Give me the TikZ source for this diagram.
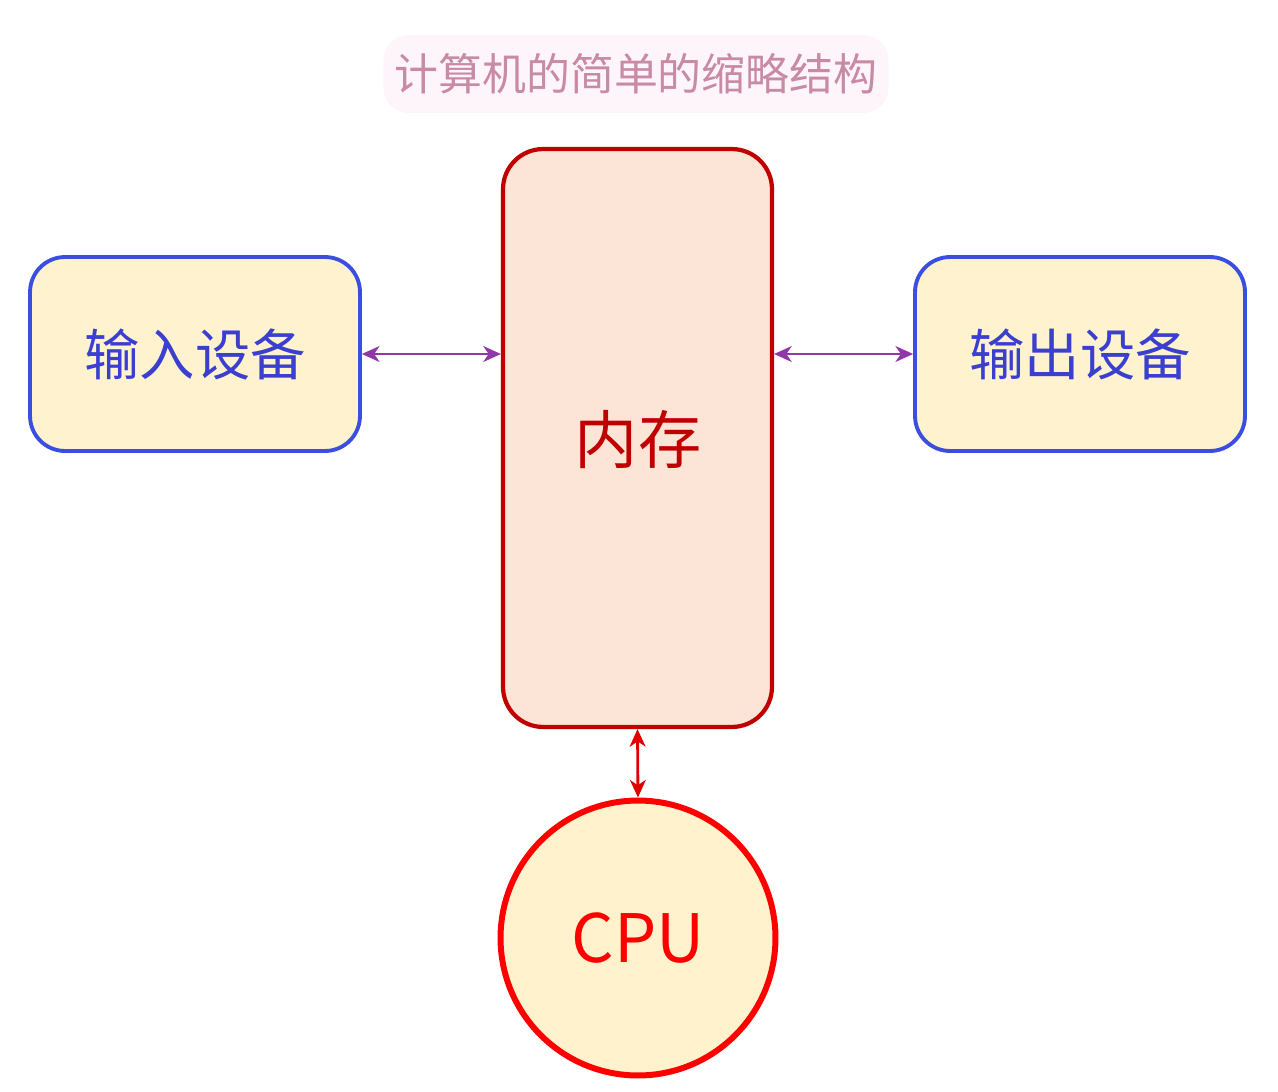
\documentclass[tikz,border=0pt]{standalone}
\usepackage{fontspec}
\setmainfont{Noto Sans CJK SC}
\usetikzlibrary{arrows.meta}
\definecolor{titletxt}{HTML}{C98AA6}
\definecolor{titlebg}{HTML}{FEF5FB}
\definecolor{iobord}{HTML}{3A4FE0}
\definecolor{iofill}{HTML}{FFF2CF}
\definecolor{iotxt}{HTML}{3A3FD0}
\definecolor{membord}{HTML}{C00000}
\definecolor{memfill}{HTML}{FCE4D6}
\definecolor{cpubord}{HTML}{FF0000}
\definecolor{cpufill}{HTML}{FFF2CC}
\definecolor{linkcol}{HTML}{9038A8}
\definecolor{vlink}{HTML}{E00000}
\tikzset{
  iobox/.style={draw=iobord, fill=iofill, line width=2.2pt, rounded corners=0.7cm,
    minimum width=6.6cm, minimum height=3.88cm, text=iotxt, font=\fontsize{31.5pt}{36pt}\selectfont, inner sep=0pt},
  membox/.style={draw=membord, fill=memfill, line width=2.4pt, rounded corners=0.8cm,
    minimum width=5.38cm, minimum height=11.56cm, inner sep=0pt},
  cpunode/.style={circle, draw=cpubord, fill=cpufill, line width=3.4pt, minimum size=5.5cm,
    text=cpubord, font=\fontsize{38pt}{42pt}\selectfont, inner sep=0pt},
  titlebox/.style={fill=titlebg, rounded corners=0.5cm, minimum width=10.1cm, minimum height=1.56cm,
    text=titletxt, font=\fontsize{25pt}{28pt}\selectfont, inner sep=0pt},
  hlink/.style={linkcol, line width=1.4pt, {Stealth[length=10pt,width=9pt,inset=3pt]}-{Stealth[length=10pt,width=9pt,inset=3pt]}},
  vlinkst/.style={vlink, line width=1.6pt, {Stealth[length=10pt,width=9pt,inset=3pt]}-{Stealth[length=10pt,width=9pt,inset=3pt]}}
}
\begin{document}
\begin{tikzpicture}[x=0.02cm,y=-0.02cm]
\useasboundingbox[fill=white] (0,0) rectangle (1278,1092);
\node[titlebox] (title) at (636,74) {计算机的简单的缩略结构};
\node[iobox] (in) at (195,354) {输入设备};
\node[iobox] (out) at (1080,354) {输出设备};
\node[membox] (mem) at (637.5,438) {};
\node[text=membord, font=\fontsize{36pt}{40pt}\selectfont] (memlbl) at (638,440) {内存};
\node[cpunode] (cpu) at (638,938) {CPU};
\draw[hlink] (in.east) -- (mem.west |- in.east);
\draw[hlink] (mem.east |- out.west) -- (out.west);
\draw[vlinkst] (mem.south) -- (cpu.north);
\end{tikzpicture}
\end{document}
